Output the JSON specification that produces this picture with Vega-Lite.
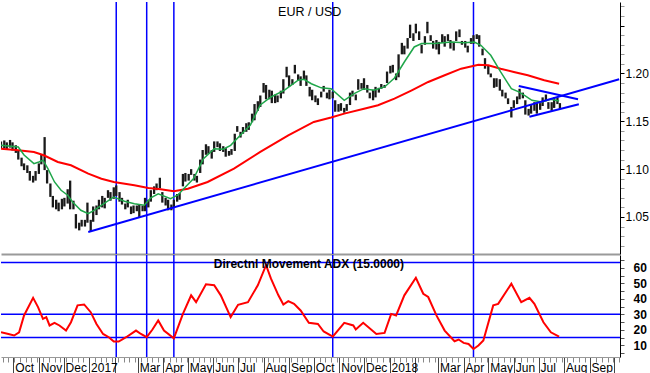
{
"$schema": "https://vega.github.io/schema/vega-lite/v6.json",
"padding": 0,
"spacing": 0,
"background": "white",
"config": {"view": {"stroke": null}, "font": "Liberation Sans"},
"datasets": {
"px": [
{"d":"2016-09-16","lo":1.1215,"hi":1.1290},{"d":"2016-09-20","lo":1.1220,"hi":1.1300},{"d":"2016-09-23","lo":1.1200,"hi":1.1280},{"d":"2016-09-27","lo":1.1225,"hi":1.1305},{"d":"2016-09-30","lo":1.1195,"hi":1.1280},
{"d":"2016-10-04","lo":1.1170,"hi":1.1250},{"d":"2016-10-07","lo":1.1100,"hi":1.1200},{"d":"2016-10-11","lo":1.1030,"hi":1.1120},{"d":"2016-10-14","lo":1.0990,"hi":1.1060},{"d":"2016-10-18","lo":1.0960,"hi":1.1040},{"d":"2016-10-21","lo":1.0880,"hi":1.0980},{"d":"2016-10-25","lo":1.0860,"hi":1.0930},{"d":"2016-10-28","lo":1.0880,"hi":1.0980},
{"d":"2016-11-01","lo":1.0950,"hi":1.1060},{"d":"2016-11-04","lo":1.1050,"hi":1.1150},{"d":"2016-11-08","lo":1.0990,"hi":1.1335},{"d":"2016-11-11","lo":1.0850,"hi":1.0990},{"d":"2016-11-15","lo":1.0710,"hi":1.0850},{"d":"2016-11-18","lo":1.0600,"hi":1.0720},{"d":"2016-11-22","lo":1.0580,"hi":1.0680},{"d":"2016-11-25","lo":1.0560,"hi":1.0650},{"d":"2016-11-29","lo":1.0580,"hi":1.0690},
{"d":"2016-12-02","lo":1.0610,"hi":1.0700},{"d":"2016-12-06","lo":1.0640,"hi":1.0790},{"d":"2016-12-09","lo":1.0580,"hi":1.0880},{"d":"2016-12-13","lo":1.0580,"hi":1.0670},{"d":"2016-12-16","lo":1.0380,"hi":1.0530},{"d":"2016-12-20","lo":1.0360,"hi":1.0440},{"d":"2016-12-23","lo":1.0400,"hi":1.0470},{"d":"2016-12-27","lo":1.0400,"hi":1.0470},{"d":"2016-12-30","lo":1.0440,"hi":1.0650},
{"d":"2017-01-03","lo":1.0345,"hi":1.0470},{"d":"2017-01-06","lo":1.0450,"hi":1.0610},{"d":"2017-01-10","lo":1.0520,"hi":1.0620},{"d":"2017-01-13","lo":1.0580,"hi":1.0680},{"d":"2017-01-17","lo":1.0600,"hi":1.0720},{"d":"2017-01-20","lo":1.0590,"hi":1.0700},{"d":"2017-01-24","lo":1.0700,"hi":1.0780},{"d":"2017-01-27","lo":1.0670,"hi":1.0760},{"d":"2017-01-31","lo":1.0690,"hi":1.0810},
{"d":"2017-02-03","lo":1.0720,"hi":1.0830},{"d":"2017-02-07","lo":1.0660,"hi":1.0760},{"d":"2017-02-10","lo":1.0630,"hi":1.0700},{"d":"2017-02-14","lo":1.0580,"hi":1.0640},{"d":"2017-02-17","lo":1.0600,"hi":1.0680},{"d":"2017-02-21","lo":1.0530,"hi":1.0610},{"d":"2017-02-24","lo":1.0540,"hi":1.0620},{"d":"2017-02-28","lo":1.0560,"hi":1.0620},
{"d":"2017-03-03","lo":1.0500,"hi":1.0630},{"d":"2017-03-07","lo":1.0560,"hi":1.0620},{"d":"2017-03-10","lo":1.0560,"hi":1.0700},{"d":"2017-03-14","lo":1.0600,"hi":1.0680},{"d":"2017-03-17","lo":1.0660,"hi":1.0780},{"d":"2017-03-21","lo":1.0740,"hi":1.0820},{"d":"2017-03-24","lo":1.0780,"hi":1.0850},{"d":"2017-03-28","lo":1.0800,"hi":1.0910},{"d":"2017-03-31","lo":1.0650,"hi":1.0760},
{"d":"2017-04-04","lo":1.0620,"hi":1.0700},{"d":"2017-04-07","lo":1.0570,"hi":1.0680},{"d":"2017-04-11","lo":1.0570,"hi":1.0630},{"d":"2017-04-14","lo":1.0600,"hi":1.0680},{"d":"2017-04-18","lo":1.0660,"hi":1.0740},{"d":"2017-04-21","lo":1.0680,"hi":1.0750},{"d":"2017-04-25","lo":1.0820,"hi":1.0950},{"d":"2017-04-28","lo":1.0870,"hi":1.0960},
{"d":"2017-05-02","lo":1.0880,"hi":1.0950},{"d":"2017-05-05","lo":1.0940,"hi":1.1000},{"d":"2017-05-09","lo":1.0880,"hi":1.0950},{"d":"2017-05-12","lo":1.0860,"hi":1.0930},{"d":"2017-05-16","lo":1.0960,"hi":1.1100},{"d":"2017-05-19","lo":1.1050,"hi":1.1200},{"d":"2017-05-23","lo":1.1150,"hi":1.1260},{"d":"2017-05-26","lo":1.1160,"hi":1.1240},{"d":"2017-05-30","lo":1.1110,"hi":1.1200},
{"d":"2017-06-02","lo":1.1180,"hi":1.1290},{"d":"2017-06-06","lo":1.1230,"hi":1.1290},{"d":"2017-06-09","lo":1.1190,"hi":1.1270},{"d":"2017-06-13","lo":1.1180,"hi":1.1240},{"d":"2017-06-16","lo":1.1130,"hi":1.1220},{"d":"2017-06-20","lo":1.1140,"hi":1.1190},{"d":"2017-06-23","lo":1.1150,"hi":1.1210},{"d":"2017-06-27","lo":1.1190,"hi":1.1370},{"d":"2017-06-30","lo":1.1390,"hi":1.1450},
{"d":"2017-07-04","lo":1.1330,"hi":1.1390},{"d":"2017-07-07","lo":1.1370,"hi":1.1440},{"d":"2017-07-11","lo":1.1390,"hi":1.1480},{"d":"2017-07-14","lo":1.1410,"hi":1.1490},{"d":"2017-07-18","lo":1.1490,"hi":1.1580},{"d":"2017-07-21","lo":1.1510,"hi":1.1680},{"d":"2017-07-25","lo":1.1610,"hi":1.1710},{"d":"2017-07-28","lo":1.1650,"hi":1.1770},
{"d":"2017-08-01","lo":1.1800,"hi":1.1900},{"d":"2017-08-04","lo":1.1730,"hi":1.1880},{"d":"2017-08-08","lo":1.1730,"hi":1.1830},{"d":"2017-08-11","lo":1.1690,"hi":1.1820},{"d":"2017-08-15","lo":1.1690,"hi":1.1780},{"d":"2017-08-18","lo":1.1700,"hi":1.1770},{"d":"2017-08-22","lo":1.1740,"hi":1.1820},{"d":"2017-08-25","lo":1.1790,"hi":1.1940},{"d":"2017-08-29","lo":1.1960,"hi":1.2070},
{"d":"2017-09-01","lo":1.1860,"hi":1.1980},{"d":"2017-09-05","lo":1.1880,"hi":1.1940},{"d":"2017-09-08","lo":1.2000,"hi":1.2090},{"d":"2017-09-12","lo":1.1930,"hi":1.1990},{"d":"2017-09-15","lo":1.1870,"hi":1.1970},{"d":"2017-09-19","lo":1.1940,"hi":1.2030},{"d":"2017-09-22","lo":1.1870,"hi":1.1980},{"d":"2017-09-26","lo":1.1760,"hi":1.1860},{"d":"2017-09-29","lo":1.1720,"hi":1.1830},
{"d":"2017-10-03","lo":1.1700,"hi":1.1770},{"d":"2017-10-06","lo":1.1670,"hi":1.1740},{"d":"2017-10-10","lo":1.1750,"hi":1.1810},{"d":"2017-10-13","lo":1.1810,"hi":1.1870},{"d":"2017-10-17","lo":1.1740,"hi":1.1800},{"d":"2017-10-20","lo":1.1730,"hi":1.1830},{"d":"2017-10-24","lo":1.1740,"hi":1.1810},{"d":"2017-10-27","lo":1.1600,"hi":1.1720},{"d":"2017-10-31","lo":1.1600,"hi":1.1680},
{"d":"2017-11-03","lo":1.1610,"hi":1.1690},{"d":"2017-11-07","lo":1.1590,"hi":1.1640},{"d":"2017-11-10","lo":1.1610,"hi":1.1680},{"d":"2017-11-14","lo":1.1670,"hi":1.1800},{"d":"2017-11-17","lo":1.1760,"hi":1.1820},{"d":"2017-11-21","lo":1.1720,"hi":1.1780},{"d":"2017-11-24","lo":1.1830,"hi":1.1940},{"d":"2017-11-28","lo":1.1840,"hi":1.1900},
{"d":"2017-12-01","lo":1.1830,"hi":1.1950},{"d":"2017-12-05","lo":1.1800,"hi":1.1880},{"d":"2017-12-08","lo":1.1740,"hi":1.1800},{"d":"2017-12-12","lo":1.1720,"hi":1.1830},{"d":"2017-12-15","lo":1.1750,"hi":1.1860},{"d":"2017-12-19","lo":1.1800,"hi":1.1850},{"d":"2017-12-22","lo":1.1840,"hi":1.1890},{"d":"2017-12-26","lo":1.1850,"hi":1.1880},{"d":"2017-12-29","lo":1.1900,"hi":1.2020},
{"d":"2018-01-02","lo":1.2000,"hi":1.2080},{"d":"2018-01-05","lo":1.2010,"hi":1.2090},{"d":"2018-01-09","lo":1.1930,"hi":1.2000},{"d":"2018-01-12","lo":1.1960,"hi":1.2200},{"d":"2018-01-16","lo":1.2200,"hi":1.2320},{"d":"2018-01-19","lo":1.2200,"hi":1.2290},{"d":"2018-01-23","lo":1.2260,"hi":1.2370},{"d":"2018-01-26","lo":1.2370,"hi":1.2510},{"d":"2018-01-30","lo":1.2340,"hi":1.2420},
{"d":"2018-02-02","lo":1.2420,"hi":1.2520},{"d":"2018-02-06","lo":1.2350,"hi":1.2440},{"d":"2018-02-09","lo":1.2210,"hi":1.2300},{"d":"2018-02-13","lo":1.2300,"hi":1.2390},{"d":"2018-02-16","lo":1.2420,"hi":1.2540},{"d":"2018-02-20","lo":1.2340,"hi":1.2400},{"d":"2018-02-23","lo":1.2260,"hi":1.2340},{"d":"2018-02-27","lo":1.2250,"hi":1.2350},
{"d":"2018-03-02","lo":1.2200,"hi":1.2330},{"d":"2018-03-06","lo":1.2320,"hi":1.2410},{"d":"2018-03-09","lo":1.2280,"hi":1.2390},{"d":"2018-03-13","lo":1.2340,"hi":1.2410},{"d":"2018-03-16","lo":1.2260,"hi":1.2350},{"d":"2018-03-20","lo":1.2240,"hi":1.2330},{"d":"2018-03-23","lo":1.2340,"hi":1.2440},{"d":"2018-03-27","lo":1.2380,"hi":1.2460},{"d":"2018-03-30","lo":1.2300,"hi":1.2340},
{"d":"2018-04-03","lo":1.2270,"hi":1.2340},{"d":"2018-04-06","lo":1.2220,"hi":1.2290},{"d":"2018-04-10","lo":1.2310,"hi":1.2370},{"d":"2018-04-13","lo":1.2310,"hi":1.2400},{"d":"2018-04-17","lo":1.2360,"hi":1.2410},{"d":"2018-04-20","lo":1.2280,"hi":1.2400},{"d":"2018-04-24","lo":1.2190,"hi":1.2260},{"d":"2018-04-27","lo":1.2050,"hi":1.2160},
{"d":"2018-05-01","lo":1.1990,"hi":1.2080},{"d":"2018-05-04","lo":1.1960,"hi":1.2000},{"d":"2018-05-08","lo":1.1850,"hi":1.1950},{"d":"2018-05-11","lo":1.1860,"hi":1.1950},{"d":"2018-05-15","lo":1.1820,"hi":1.1940},{"d":"2018-05-18","lo":1.1760,"hi":1.1830},{"d":"2018-05-22","lo":1.1740,"hi":1.1800},{"d":"2018-05-25","lo":1.1680,"hi":1.1740},{"d":"2018-05-29","lo":1.1540,"hi":1.1650},
{"d":"2018-06-01","lo":1.1640,"hi":1.1720},{"d":"2018-06-05","lo":1.1680,"hi":1.1760},{"d":"2018-06-08","lo":1.1730,"hi":1.1840},{"d":"2018-06-12","lo":1.1740,"hi":1.1800},{"d":"2018-06-15","lo":1.1570,"hi":1.1720},{"d":"2018-06-19","lo":1.1560,"hi":1.1630},{"d":"2018-06-22","lo":1.1580,"hi":1.1670},{"d":"2018-06-26","lo":1.1610,"hi":1.1700},{"d":"2018-06-29","lo":1.1580,"hi":1.1690},
{"d":"2018-07-03","lo":1.1620,"hi":1.1690},{"d":"2018-07-06","lo":1.1660,"hi":1.1750},{"d":"2018-07-10","lo":1.1710,"hi":1.1780},{"d":"2018-07-13","lo":1.1630,"hi":1.1700},{"d":"2018-07-17","lo":1.1610,"hi":1.1700},{"d":"2018-07-20","lo":1.1640,"hi":1.1750},{"d":"2018-07-24","lo":1.1680,"hi":1.1750},{"d":"2018-07-27","lo":1.1630,"hi":1.1690}
],
"green": [
{"d":"2016-09-16","v":1.1249},{"d":"2016-10-07","v":1.1232},{"d":"2016-10-14","v":1.1148},{"d":"2016-10-26","v":1.1057},{"d":"2016-11-01","v":1.1075},{"d":"2016-11-06","v":1.1093},{"d":"2016-11-12","v":1.1005},{"d":"2016-11-20","v":1.0866},{"d":"2016-11-28","v":1.0779},{"d":"2016-12-06","v":1.0727},{"d":"2016-12-12","v":1.0657},{"d":"2016-12-22","v":1.0570},{"d":"2016-12-31","v":1.0534},
{"d":"2017-01-07","v":1.0570},{"d":"2017-01-19","v":1.0639},{"d":"2017-01-31","v":1.0709},{"d":"2017-02-13","v":1.0664},{"d":"2017-02-25","v":1.0639},{"d":"2017-03-09","v":1.0622},{"d":"2017-03-17","v":1.0700},{"d":"2017-03-26","v":1.0743},{"d":"2017-04-10","v":1.0691},{"d":"2017-04-19","v":1.0730},{"d":"2017-04-26","v":1.0796},{"d":"2017-05-08","v":1.0901},{"d":"2017-05-20","v":1.1109},{"d":"2017-06-02","v":1.1214},{"d":"2017-06-13","v":1.1208},{"d":"2017-06-22","v":1.1249},{"d":"2017-07-04","v":1.1357},{"d":"2017-07-16","v":1.1462},{"d":"2017-07-28","v":1.1671},{"d":"2017-08-10","v":1.1754},{"d":"2017-08-26","v":1.1824},{"d":"2017-09-12","v":1.1929},{"d":"2017-09-19","v":1.1939},{"d":"2017-09-28","v":1.1893},{"d":"2017-10-10","v":1.1850},{"d":"2017-10-22","v":1.1841},{"d":"2017-11-07","v":1.1720},{"d":"2017-11-19","v":1.1789},{"d":"2017-12-01","v":1.1841},{"d":"2017-12-13","v":1.1824},{"d":"2017-12-26","v":1.1859},
{"d":"2018-01-07","v":1.1953},{"d":"2018-01-19","v":1.2120},{"d":"2018-01-31","v":1.2277},{"d":"2018-02-09","v":1.2312},{"d":"2018-02-25","v":1.2312},{"d":"2018-03-17","v":1.2329},{"d":"2018-04-02","v":1.2322},{"d":"2018-04-14","v":1.2329},{"d":"2018-04-22","v":1.2295},{"d":"2018-05-04","v":1.2190},{"d":"2018-05-16","v":1.2016},{"d":"2018-05-29","v":1.1841},{"d":"2018-06-07","v":1.1807},{"d":"2018-06-14","v":1.1772},{"d":"2018-06-23","v":1.1720},{"d":"2018-07-05","v":1.1702},{"d":"2018-07-16","v":1.1730},{"d":"2018-07-26","v":1.1713}
],
"red": [
{"d":"2016-09-16","v":1.1214},{"d":"2016-10-07","v":1.1197},{"d":"2016-10-26","v":1.1179},{"d":"2016-11-07","v":1.1145},{"d":"2016-11-24","v":1.1075},{"d":"2016-12-10","v":1.1040},{"d":"2016-12-31","v":1.0953},{"d":"2017-01-16","v":1.0900},{"d":"2017-01-31","v":1.0866},{"d":"2017-02-25","v":1.0831},{"d":"2017-03-14","v":1.0803},{"d":"2017-03-29","v":1.0790},{"d":"2017-04-14","v":1.0769},{"d":"2017-05-01","v":1.0796},{"d":"2017-05-25","v":1.0866},{"d":"2017-06-26","v":1.1005},{"d":"2017-07-28","v":1.1180},{"d":"2017-08-31","v":1.1354},{"d":"2017-10-01","v":1.1493},{"d":"2017-10-22","v":1.1540},{"d":"2017-11-07","v":1.1580},{"d":"2017-12-01","v":1.1632},{"d":"2017-12-18","v":1.1668},{"d":"2018-01-07","v":1.1737},{"d":"2018-01-28","v":1.1824},{"d":"2018-02-17","v":1.1911},{"d":"2018-03-09","v":1.1981},{"d":"2018-03-29","v":1.2050},{"d":"2018-04-19","v":1.2092},{"d":"2018-05-01","v":1.2086},{"d":"2018-05-16","v":1.2050},{"d":"2018-06-01","v":1.2016},{"d":"2018-06-18","v":1.1981},{"d":"2018-07-08","v":1.1929},{"d":"2018-07-26","v":1.1893}
],
"adx": [
{"d":"2016-09-16","v":18.4},{"d":"2016-09-25","v":17.3},{"d":"2016-10-02","v":16.3},{"d":"2016-10-08","v":18.4},{"d":"2016-10-14","v":29.3},{"d":"2016-10-25","v":40.7},{"d":"2016-10-31","v":34.7},{"d":"2016-11-06","v":27.1},{"d":"2016-11-10","v":28.2},{"d":"2016-11-14","v":22.8},{"d":"2016-11-20","v":24.5},{"d":"2016-11-26","v":22.8},{"d":"2016-12-04","v":19.5},{"d":"2016-12-10","v":24.9},{"d":"2016-12-18","v":35.8},{"d":"2016-12-26","v":36.4},
{"d":"2017-01-03","v":31.4},{"d":"2017-01-10","v":23.8},{"d":"2017-01-18","v":17.3},{"d":"2017-01-25","v":15.2},{"d":"2017-01-31","v":12.4},{"d":"2017-02-06","v":12.4},{"d":"2017-02-15","v":15.2},{"d":"2017-02-27","v":19.5},{"d":"2017-03-05","v":17.3},{"d":"2017-03-12","v":15.2},{"d":"2017-03-19","v":20.2},{"d":"2017-03-26","v":26.0},{"d":"2017-04-02","v":19.5},{"d":"2017-04-14","v":14.5},{"d":"2017-04-25","v":30.3},{"d":"2017-05-05","v":42.3},{"d":"2017-05-11","v":37.9},{"d":"2017-05-23","v":49.4},{"d":"2017-06-02","v":48.8},{"d":"2017-06-10","v":42.3},{"d":"2017-06-22","v":28.2},{"d":"2017-07-01","v":36.2},{"d":"2017-07-13","v":37.9},{"d":"2017-07-25","v":48.8},{"d":"2017-08-04","v":61.8},{"d":"2017-08-10","v":53.1},{"d":"2017-08-19","v":42.3},{"d":"2017-08-25","v":36.4},{"d":"2017-08-31","v":38.6},{"d":"2017-09-07","v":36.8},{"d":"2017-09-15","v":32.5},{"d":"2017-09-25","v":24.5},{"d":"2017-10-06","v":23.8},{"d":"2017-10-13","v":18.9},{"d":"2017-10-22","v":16.3},{"d":"2017-10-24","v":15.6},{"d":"2017-11-07","v":24.5},{"d":"2017-11-18","v":22.8},{"d":"2017-11-21","v":20.2},{"d":"2017-11-30","v":24.5},{"d":"2017-12-16","v":17.3},{"d":"2017-12-26","v":18.0},
{"d":"2018-01-03","v":30.3},{"d":"2018-01-09","v":29.3},{"d":"2018-01-19","v":42.3},{"d":"2018-02-02","v":53.7},{"d":"2018-02-11","v":43.3},{"d":"2018-02-17","v":41.2},{"d":"2018-02-27","v":29.3},{"d":"2018-03-09","v":19.5},{"d":"2018-03-21","v":12.6},{"d":"2018-03-26","v":13.7},{"d":"2018-04-01","v":11.5},{"d":"2018-04-07","v":10.8},{"d":"2018-04-13","v":7.6},{"d":"2018-04-19","v":9.8},{"d":"2018-04-25","v":13.1},{"d":"2018-05-07","v":35.8},{"d":"2018-05-13","v":36.8},{"d":"2018-05-29","v":49.8},{"d":"2018-06-10","v":37.9},{"d":"2018-06-20","v":40.7},{"d":"2018-06-26","v":36.8},{"d":"2018-07-07","v":24.9},{"d":"2018-07-16","v":18.4},{"d":"2018-07-26","v":15.6}
],
"vl": [{"d":"2017-02-03"},{"d":"2017-03-12"},{"d":"2017-04-14"},{"d":"2017-10-24"},{"d":"2018-04-13"}],
"hl": [{"v":15},{"v":30},{"v":63.5}],
"tl": [
{"s":"a","d":"2016-12-31","v":1.0343},{"s":"a","d":"2018-10-07","v":1.1939},
{"s":"b","d":"2018-06-07","v":1.1869},{"s":"b","d":"2018-08-18","v":1.1730},
{"s":"c","d":"2018-06-20","v":1.1548},{"s":"c","d":"2018-08-19","v":1.1678}
],
"t1": [{"d":"2017-09-26","v":1.2642,"t":"EUR / USD"}],
"t2": [{"d":"2017-09-25","v":62.6,"t":"Directnl Movement ADX (15.0000)"}]
},
"vconcat": [
{
"width": 619,
"height": 252,
"layer": [
{"data": {"name": "vl"}, "mark": {"type": "rule", "color": "#0000ff", "strokeWidth": 1.5, "clip": true},
 "encoding": {"x": {"field": "d", "type": "temporal"}}},
{"data": {"name": "px"}, "mark": {"type": "rule", "color": "#1a1a1a", "strokeWidth": 2.3, "clip": true},
 "encoding": {
  "x": {"field": "d", "type": "temporal",
        "scale": {"type": "utc", "domain": [{"year": 2016, "month": 9, "date": 16, "utc": true}, {"year": 2018, "month": 10, "date": 8, "utc": true}]},
        "axis": {"orient": "bottom", "labels": false, "ticks": false, "domain": true, "domainColor": "#9a9a9a", "domainWidth": 2, "title": null, "grid": false}},
  "y": {"field": "lo", "type": "quantitative",
        "scale": {"domain": [1.0113, 1.2747], "nice": false, "zero": false},
        "axis": {"orient": "right", "title": null, "grid": false, "labelOverlap": false, "tickCount": 100,
                 "values": [1.02,1.03,1.04,1.05,1.06,1.07,1.08,1.09,1.10,1.11,1.12,1.13,1.14,1.15,1.16,1.17,1.18,1.19,1.20,1.21,1.22,1.23,1.24,1.25,1.26,1.27],
                 "labelExpr": "(abs(datum.value*20-round(datum.value*20))<0.001 && datum.value>1.04 && datum.value<1.21) ? format(datum.value,'.2f') : ''",
                 "tickSize": 4,
                 "tickColor": {"condition": {"test": "abs(datum.value*20-round(datum.value*20))<0.001", "value": "#000"}, "value": "#999"},
                 "domainColor": "#000", "labelColor": "#000", "labelFontSize": 12, "labelFont": "Liberation Sans", "labelPadding": 1}},
  "y2": {"field": "hi"}}},
{"data": {"name": "red"}, "mark": {"type": "line", "color": "#ff0000", "strokeWidth": 2, "clip": true},
 "encoding": {"x": {"field": "d", "type": "temporal"}, "y": {"field": "v", "type": "quantitative"}}},
{"data": {"name": "green"}, "mark": {"type": "line", "color": "#1fa64a", "strokeWidth": 1.5, "clip": true},
 "encoding": {"x": {"field": "d", "type": "temporal"}, "y": {"field": "v", "type": "quantitative"}}},
{"data": {"name": "tl"}, "mark": {"type": "line", "color": "#0000ff", "strokeWidth": 2, "clip": true},
 "encoding": {"x": {"field": "d", "type": "temporal"}, "y": {"field": "v", "type": "quantitative"}, "detail": {"field": "s"}}},
{"data": {"name": "t1"}, "mark": {"type": "text", "align": "center", "baseline": "middle", "fontSize": 12.5, "font": "Liberation Sans", "color": "#000"},
 "encoding": {"x": {"field": "d", "type": "temporal"}, "y": {"field": "v", "type": "quantitative"}, "text": {"field": "t"}}}
]
},
{
"width": 619,
"height": 102,
"resolve": {"axis": {"x": "independent"}},
"layer": [
{"data": {"name": "hl"}, "mark": {"type": "rule", "color": "#0000ff", "strokeWidth": 1.5},
 "encoding": {"y": {"field": "v", "type": "quantitative"}}},
{"data": {"name": "vl"}, "mark": {"type": "rule", "color": "#0000ff", "strokeWidth": 1.5},
 "encoding": {"x": {"field": "d", "type": "temporal",
   "axis": {"orient": "bottom", "tickCount": {"interval": "week", "step": 1}, "tickSize": 5, "tickColor": "#888", "labels": false, "domain": false, "title": null, "grid": false}}}},
{"data": {"name": "adx"}, "mark": {"type": "line", "color": "#ff0000", "strokeWidth": 2, "clip": true},
 "encoding": {
  "x": {"field": "d", "type": "temporal",
        "scale": {"type": "utc", "domain": [{"year": 2016, "month": 9, "date": 16, "utc": true}, {"year": 2018, "month": 10, "date": 8, "utc": true}]},
        "axis": {"orient": "bottom", "tickCount": {"interval": "month", "step": 1}, "tickSize": 16, "tickColor": "#444", "domain": true, "domainColor": "#999",
                 "labelAlign": "left", "labelBaseline": "middle", "labelPadding": -6, "labelOffset": 1.5,
                 "labelExpr": "(utcyear(datum.value)==2018 && utcmonth(datum.value)>=9) ? '' : (utcmonth(datum.value)==0 ? utcFormat(datum.value,'%Y') : (utcmonth(datum.value)==1 ? '' : utcFormat(datum.value,'%b')))",
                 "labelFontSize": 12, "labelFont": "Liberation Sans", "labelColor": "#000", "labelOverlap": false, "labelFlush": false, "labelBound": false, "title": null, "grid": false}},
  "y": {"field": "v", "type": "quantitative",
        "scale": {"domain": [2.4, 68.4], "nice": false, "zero": false},
        "axis": {"orient": "right", "title": null, "grid": false, "labelOverlap": false, "tickCount": 100, "values": [5,10,15,20,25,30,35,40,45,50,55,60,65],
                 "labelExpr": "(datum.value%10==0 && datum.value<=60) ? format(datum.value,'d') : ''",
                 "tickSize": 4, "tickColor": "#555", "domainColor": "#000", "labelColor": "#000", "labelFontSize": 12, "labelFontWeight": "bold", "labelFont": "Liberation Sans", "labelPadding": 9}}}},
{"data": {"name": "t2"}, "mark": {"type": "text", "align": "center", "baseline": "middle", "fontSize": 12, "fontWeight": "bold", "font": "Liberation Sans", "color": "#000"},
 "encoding": {"x": {"field": "d", "type": "temporal", "axis": null}, "y": {"field": "v", "type": "quantitative"}, "text": {"field": "t"}}}
]
}
]
}
